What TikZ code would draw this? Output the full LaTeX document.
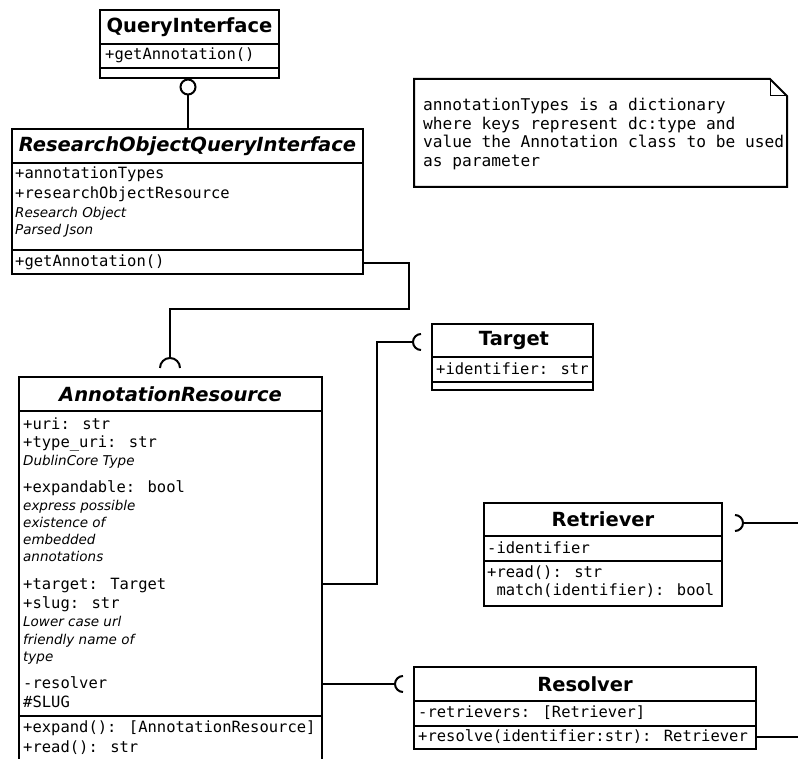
\documentclass[tikz,border=0pt]{standalone}
\usepackage{fontspec}
\setmainfont{DejaVu Sans}
\newfontfamily\umlmono{DejaVu Sans Mono}
% horizontal rule across a class box, #2 points below its top edge
\newcommand\compartment[2]{\draw[rule] ([yshift=-#2pt]#1.north west) -- ([yshift=-#2pt]#1.north east);}
\begin{document}
\begin{tikzpicture}[x=1pt,y=-1pt,
  umlbox/.style={draw, line width=2pt, inner sep=0pt, outer sep=0pt, anchor=north west},
  rule/.style={line width=2pt},
  wire/.style={line width=2pt},
  fold/.style={line width=1pt},
  ctitle/.style={font=\bfseries\fontsize{19.5}{22}\selectfont, inner sep=0pt},
  atitle/.style={font=\bfseries\itshape\fontsize{19.5}{22}\selectfont, inner sep=0pt},
  attr/.style={font=\umlmono\fontsize{15.5}{19}\selectfont, anchor=west, inner sep=0pt, text height=11pt, text depth=3pt},
  cmt/.style={font=\itshape\fontsize{13.5}{17}\selectfont, anchor=west, inner sep=0pt, text height=10pt, text depth=3pt},
  notetxt/.style={font=\umlmono\fontsize{16.2}{18.7}\selectfont, align=left, inner sep=0pt, anchor=north west},
]
\clip (0,0) rectangle (798,759);
\fill[white] (0,0) rectangle (798,759);

% ---------- QueryInterface ----------
\node[umlbox, minimum width=179pt, minimum height=68pt] (qi) at (100,10) {};
\compartment{qi}{34}
\compartment{qi}{58}
\node[ctitle] (qi-t) at (189.5,27) {QueryInterface};
\node[attr] (qi-o1) at (105,56) {+getAnnotation()};

% ---------- ResearchObjectQueryInterface ----------
\node[umlbox, minimum width=351pt, minimum height=145pt] (roqi) at (12,129) {};
\compartment{roqi}{34}
\compartment{roqi}{121}
\node[atitle] (roqi-t) at (187.5,146) {ResearchObjectQueryInterface};
\node[attr] (roqi-a1) at (15,175) {+annotationTypes};
\node[attr] (roqi-a2) at (15,195) {+researchObjectResource};
\node[cmt]  (roqi-c1) at (15,214) {Research Object};
\node[cmt]  (roqi-c2) at (15,231) {Parsed Json};
\node[attr] (roqi-o1) at (15,263) {+getAnnotation()};

% ---------- AnnotationResource ----------
\node[umlbox, minimum width=303pt, minimum height=400pt] (ar) at (19,377) {};
\compartment{ar}{34}
\compartment{ar}{339}
\node[atitle] (ar-t) at (170.5,394) {AnnotationResource};
\node[attr] (ar-a1)  at (23,425) {+uri: str};
\node[attr] (ar-a2)  at (23,443) {+type\_uri: str};
\node[cmt]  (ar-c1)  at (23,462) {DublinCore Type};
\node[attr] (ar-a3)  at (23,488) {+expandable: bool};
\node[cmt]  (ar-c2)  at (23,507) {express possible};
\node[cmt]  (ar-c3)  at (23,524) {existence of};
\node[cmt]  (ar-c4)  at (23,541) {embedded};
\node[cmt]  (ar-c5)  at (23,558) {annotations};
\node[attr] (ar-a4)  at (23,585) {+target: Target};
\node[attr] (ar-a5)  at (23,604) {+slug: str};
\node[cmt]  (ar-c6)  at (23,623) {Lower case url};
\node[cmt]  (ar-c7)  at (23,641) {friendly name of};
\node[cmt]  (ar-c8)  at (23,658) {type};
\node[attr] (ar-a6)  at (23,684) {-resolver};
\node[attr] (ar-a7)  at (23,703) {\#SLUG};
\node[attr] (ar-o1)  at (23,728) {+expand(): [AnnotationResource]};
\node[attr] (ar-o2)  at (23,748) {+read(): str};

% ---------- Target ----------
\node[umlbox, minimum width=161pt, minimum height=66pt] (tg) at (432,324) {};
\compartment{tg}{33}
\compartment{tg}{58}
\node[ctitle] (tg-t) at (514,340.5) {Target};
\node[attr] (tg-a1) at (436,370) {+identifier: str};

% ---------- Retriever ----------
\node[umlbox, minimum width=238pt, minimum height=103pt] (rt) at (484,503) {};
\compartment{rt}{33}
\compartment{rt}{58}
\node[ctitle] (rt-t) at (603,519.5) {Retriever};
\node[attr] (rt-a1) at (487,549) {-identifier};
\node[attr] (rt-o1) at (487,573) {+read(): str};
\node[attr] (rt-o2) at (487,591) {\ match(identifier): bool};

% ---------- Resolver ----------
\node[umlbox, minimum width=342pt, minimum height=82pt] (rs) at (414,667) {};
\compartment{rs}{34}
\compartment{rs}{59}
\node[ctitle] (rs-t) at (585,684) {Resolver};
\node[attr] (rs-a1) at (418,713) {-retrievers: [Retriever]};
\node[attr] (rs-o1) at (418,737) {+resolve(identifier:str): Retriever};

% ---------- note ----------
\draw[rule] (414,79) -- (770,79) -- (787,96) -- (787,187) -- (414,187) -- cycle;
\draw[fold] (770,79) -- (770,96) -- (787,96);
\node[notetxt] (note) at (423,98) {annotationTypes is a dictionary\\where keys represent dc:type and\\value the Annotation class to be used\\as parameter};

% ---------- connectors ----------
% provided interface of QueryInterface (lollipop)
\node[draw, circle, line width=2pt, minimum size=15pt, inner sep=0pt] (qisock) at (188,87) {};
\draw[wire] (qisock.south) -- (qisock.south |- roqi.north);

% ResearchObjectQueryInterface -> AnnotationResource (socket)
\coordinate (arsock) at (170,358);
\draw[wire] ([yshift=-134pt]roqi.north east) -| (409,309) -| (arsock);
\draw[wire] ([xshift=-10pt,yshift=-10pt]arsock) arc[start angle=180, end angle=0, radius=10pt];

% AnnotationResource -> Target (socket)
\coordinate (tgsock) at (413,342);
\draw[wire] ([yshift=-207pt]ar.north east) -| (377,342) -- (tgsock);
\draw[wire] ([shift={(8pt,8pt)}]tgsock) arc[start angle=90, end angle=270, radius=8pt];

% Retriever socket
\coordinate (rtsock) at (743,523);
\coordinate (rtend) at (800,523);
\draw[wire] (rtsock) -- (rtend);
\draw[wire] ([shift={(-8pt,8pt)}]rtsock) arc[start angle=90, end angle=-90, radius=8pt];

% AnnotationResource -> Resolver (socket)
\coordinate (rssock) at (395,684);
\draw[wire] ([yshift=-307pt]ar.north east) -- (rssock);
\draw[wire] ([shift={(8pt,8pt)}]rssock) arc[start angle=90, end angle=270, radius=8pt];

% Resolver outgoing
\coordinate (rsend) at (800,737);
\draw[wire] ([yshift=-70pt]rs.north east) -- (rsend);
\end{tikzpicture}
\end{document}
